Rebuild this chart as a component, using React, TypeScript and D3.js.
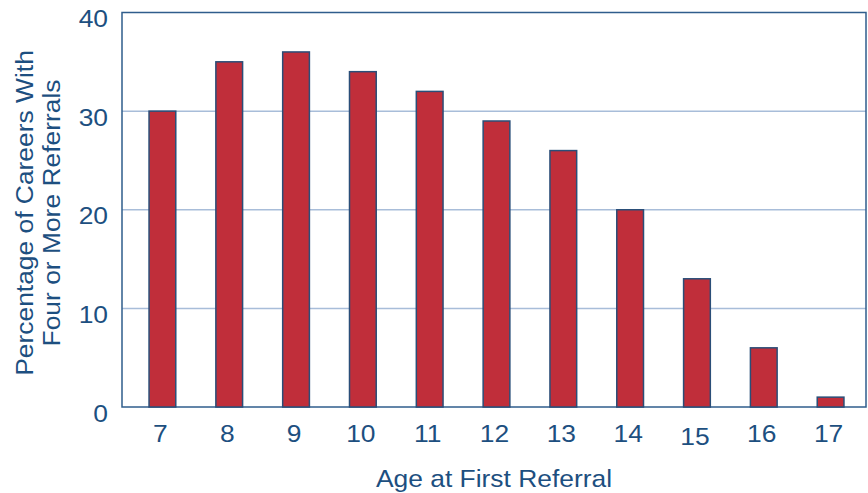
import { useEffect, useRef } from 'react';
import * as d3 from 'd3';

const ages = ['7', '8', '9', '10', '11', '12', '13', '14', '15', '16', '17'];
const percents = [30, 35, 36, 34, 32, 29, 26, 20, 13, 6, 1];
const yTicks = [0, 10, 20, 30, 40];

const App = () => {
  const svgRef = useRef<SVGSVGElement>(null);

  useEffect(() => {
    if (!svgRef.current) {
      return;
    }
    const width = 868;
    const height = 493;
    const textColor = '#1d4f80';
    const font = 'Liberation Sans, Arial, sans-serif';
    const fontSize = 24;
    const stretch = 1.1;

    const svg = d3.select(svgRef.current);
    svg.selectAll('*').remove();
    svg.attr('width', width).attr('height', height);

    const left = 122;
    const right = 866;
    const top = 12.5;
    const bottom = 407;

    const x = d3.scaleBand<string>().domain(ages).range([129, 864]).paddingInner(0.6).paddingOuter(0.3);
    const y = d3.scaleLinear().domain([0, 40]).range([bottom, top]);

    // gridlines
    svg
      .append('g')
      .selectAll('line')
      .data(yTicks.filter((t) => t > 0 && t < 40))
      .enter()
      .append('line')
      .attr('x1', left)
      .attr('x2', right)
      .attr('y1', (d) => y(d))
      .attr('y2', (d) => y(d))
      .attr('stroke', '#a8bdd9')
      .attr('stroke-width', 1.5);

    // frame
    svg
      .append('rect')
      .attr('x', left)
      .attr('y', top)
      .attr('width', right - left)
      .attr('height', bottom - top)
      .attr('fill', 'none')
      .attr('stroke', '#2f5d8c')
      .attr('stroke-width', 1.5);

    // bars
    svg
      .append('g')
      .selectAll('rect')
      .data(percents)
      .enter()
      .append('rect')
      .attr('x', (_d, i) => x(ages[i]) ?? 0)
      .attr('y', (d) => y(d))
      .attr('width', x.bandwidth())
      .attr('height', (d) => bottom - y(d))
      .attr('fill', '#c02e3a')
      .attr('stroke', '#2a4e78')
      .attr('stroke-width', 1.5);

    // y tick labels
    svg
      .append('g')
      .selectAll('text')
      .data(yTicks)
      .enter()
      .append('text')
      .attr('transform', (d) => `translate(108,${y(d) + 14.5}) scale(${stretch},1)`)
      .attr('text-anchor', 'end')
      .attr('font-family', font)
      .attr('font-size', fontSize)
      .attr('fill', textColor)
      .text((d) => d);

    // x tick labels
    svg
      .append('g')
      .selectAll('text')
      .data(ages)
      .enter()
      .append('text')
      .attr('transform', (d) => {
        const cx = (x(d) ?? 0) + x.bandwidth() / 2 - 2;
        const by = d === '15' ? 445 : 442;
        return `translate(${cx},${by}) scale(${stretch},1)`;
      })
      .attr('text-anchor', 'middle')
      .attr('font-family', font)
      .attr('font-size', fontSize)
      .attr('fill', textColor)
      .text((d) => d);

    svg
      .append('text')
      .attr('transform', `translate(494,487) scale(${stretch},1)`)
      .attr('text-anchor', 'middle')
      .attr('font-family', font)
      .attr('font-size', fontSize)
      .attr('fill', textColor)
      .text('Age at First Referral');

    const yTitle = svg
      .append('text')
      .attr('transform', `translate(0,213) rotate(-90) scale(${stretch},1)`)
      .attr('text-anchor', 'middle')
      .attr('font-family', font)
      .attr('font-size', fontSize)
      .attr('fill', textColor);
    yTitle.append('tspan').attr('x', 0).attr('y', 33).text('Percentage of Careers With');
    yTitle.append('tspan').attr('x', 0).attr('y', 60).text('Four or More Referrals');
  }, []);

  return (
    <div style={{ position: 'absolute', left: 0, top: 0 }}>
      <svg ref={svgRef} style={{ display: 'block' }} />
    </div>
  );
};

export default App;
